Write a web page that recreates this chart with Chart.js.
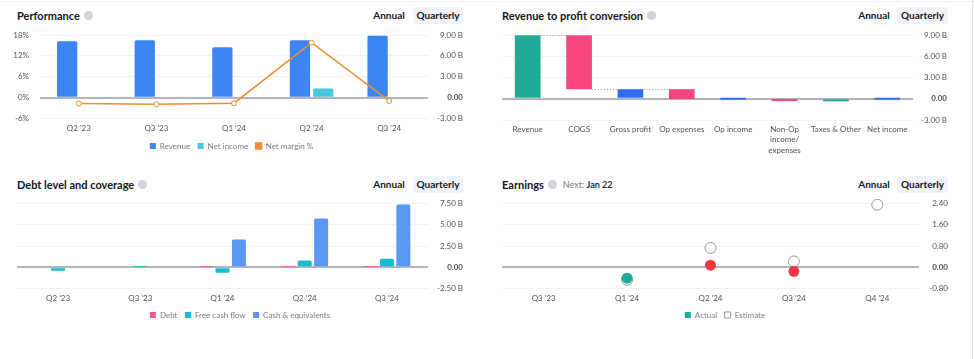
<!DOCTYPE html>
<html>
<head>
<meta charset="utf-8">
<script src="https://cdn.jsdelivr.net/npm/chart.js@4.4.1/dist/chart.umd.min.js"></script>
<style>
  body { margin: 0; background: #fff; width: 975px; height: 359px; overflow: hidden; position: relative; font-family: Lato, sans-serif; color: #131722; }
  .box { position: absolute; }
  .head { position: absolute; display: flex; align-items: center; height: 16px; white-space: nowrap; }
  .title { font-size: 11px; font-weight: 700; }
  .help { width: 9px; height: 9px; border-radius: 50%; background: #d1d4dc; margin-left: 4px; }
  .next { font-size: 9px; color: #787b86; margin-left: 6px; }
  .next b { color: #2a2e39; font-weight: 700; }
  .btn { position: absolute; font-size: 10px; font-weight: 700; line-height: 17px; white-space: nowrap; text-align: center; }
  .btn.on { background: #f0f3fa; border-radius: 4px; }
  .topline { position: absolute; left: 0; top: 1px; width: 975px; height: 1px; background: #eef0f3; }
  .sideline { position: absolute; left: 972px; top: 0; width: 1px; height: 359px; background: #e6e8ec; }
</style>
</head>
<body>
<div class="topline"></div>
<div class="sideline"></div>

<div class="head" style="left:17px;top:7px"><span class="title">Performance</span><span class="help"></span></div>
<div class="btn" style="left:372px;top:7px;width:34px">Annual</div>
<div class="btn on" style="left:413px;top:7px;width:50px">Quarterly</div>

<div class="head" style="left:502px;top:7px"><span class="title">Revenue to profit conversion</span><span class="help"></span></div>
<div class="btn" style="left:857px;top:7px;width:34px">Annual</div>
<div class="btn on" style="left:897px;top:7px;width:51px">Quarterly</div>

<div class="head" style="left:17px;top:176px"><span class="title">Debt level and coverage</span><span class="help"></span></div>
<div class="btn" style="left:372px;top:176px;width:34px">Annual</div>
<div class="btn on" style="left:413px;top:176px;width:50px">Quarterly</div>

<div class="head" style="left:502px;top:176px"><span class="title">Earnings</span><span class="help"></span><span class="next">Next: <b>Jan 22</b></span></div>
<div class="btn" style="left:857px;top:176px;width:34px">Annual</div>
<div class="btn on" style="left:897px;top:176px;width:51px">Quarterly</div>

<canvas id="perf" class="box" width="480" height="135" style="left:0;top:25px"></canvas>
<canvas id="conv" class="box" width="495" height="135" style="left:480px;top:25px"></canvas>
<canvas id="debt" class="box" width="480" height="140" style="left:0;top:190px"></canvas>
<canvas id="eps" class="box" width="495" height="140" style="left:480px;top:190px"></canvas>

<script>
// Performance
const perfQuarters = ["Q2 '23", "Q3 '23", "Q1 '24", "Q2 '24", "Q3 '24"];
const perfRevenue = [8.1, 8.25, 7.25, 8.25, 8.9];
const perfNetIncome = [-0.14, -0.16, -0.12, 1.32, -0.085];
const perfNetMargin = [-1.7, -1.9, -1.6, 15.8, -0.95];

// Revenue to profit conversion (total = bar from zero, step = change from previous level)
const convLabels = ["Revenue", "COGS", "Gross profit", "Op expenses", "Op income", ["Non-Op", "income/", "expenses"], "Taxes & Other", "Net income"];
const convKinds = ["total", "step", "total", "step", "total", "step", "step", "total"];
const convValues = [8.95, -7.6, 1.35, -1.4, -0.05, -0.05, 0.015, -0.085];
const convColors = ["#22ab94", "#f7457d", "#2e6ff2", "#f7457d", "#2e6ff2", "#f7457d", "#22ab94", "#2e6ff2"];

// Debt level and coverage
const debtQuarters = ["Q2 '23", "Q3 '23", "Q1 '24", "Q2 '24", "Q3 '24"];
const debtDebt = [null, null, 0.05, 0.05, 0.05];
const debtFreeCash = [-0.4, 0.04, -0.64, 0.8, 1.0];
const debtCash = [null, null, 3.29, 5.76, 7.4];

// Earnings
const epsQuarters = ["Q3 '23", "Q1 '24", "Q2 '24", "Q3 '24", "Q4 '24"];
const epsActual = [null, -0.41, 0.08, -0.15, null];
const epsEstimate = [null, -0.47, 0.73, 0.22, 2.36];

const FONT = "Lato";
const tickColor = "#50535e";
const tickFont = (c) => ({ family: FONT, size: 8, weight: c.tick && c.tick.value === 0 ? "bold" : "normal" });
const gridLines = {
  drawTicks: false,
  color: (c) => (c.tick && c.tick.value === 0 ? "#b2b5be" : "#f0f3fa"),
  lineWidth: (c) => (c.tick && c.tick.value === 0 ? 2 : 1),
};
const billions = (v) => (v === 0 ? "0.00" : v.toFixed(2) + " B");
const xAxis = (height, lineHeight, padding) => ({
  grid: { display: false, drawTicks: false },
  border: { display: false },
  ticks: { color: tickColor, font: { family: FONT, size: 8, lineHeight: lineHeight }, padding: padding, maxRotation: 0, autoSkip: false },
  afterFit: (s) => { s.height = height; },
});
// fixed width, no extra room above/below for the tick labels
const fitY = (width) => (s) => { s.width = width; s.paddingTop = 0; s.paddingBottom = 0; };
const legendOpts = {
  position: "bottom",
  labels: {
    boxWidth: 6, boxHeight: 6, padding: 7.5, color: "#787b86",
    font: { family: FONT, size: 8 },
    sort: (a, b) => a.datasetIndex - b.datasetIndex,
  },
};

Chart.defaults.animation = false;
Chart.defaults.responsive = false;
Chart.defaults.plugins.tooltip.enabled = false;

new Chart(document.getElementById("perf"), {
  data: {
    labels: perfQuarters,
    datasets: [
      { type: "bar", label: "Revenue", data: perfRevenue, backgroundColor: "#3d85f5", yAxisID: "yB", order: 2,
        borderRadius: 1.5, categoryPercentage: 0.6, barPercentage: 0.87 },
      { type: "bar", label: "Net income", data: perfNetIncome, backgroundColor: "#45c9dd", yAxisID: "yB", order: 2,
        borderRadius: 1.5, categoryPercentage: 0.6, barPercentage: 0.87, minBarLength: 1 },
      { type: "line", label: "Net margin %", data: perfNetMargin, yAxisID: "yPct", order: 1,
        borderColor: "#f08c2e", backgroundColor: "#f08c2e", borderWidth: 1.5,
        pointRadius: 2.5, pointBackgroundColor: "#fff", pointBorderColor: "#f08c2e", pointBorderWidth: 1 },
    ],
  },
  options: {
    layout: { padding: { top: 10, right: 17, bottom: 0 } },
    plugins: { legend: legendOpts },
    scales: {
      x: xAxis(16, 1.1, 6),
      yPct: {
        position: "left", min: -6, max: 18,
        ticks: { stepSize: 6, color: tickColor, font: { family: FONT, size: 8 }, padding: 11, callback: (v) => v + "%" },
        grid: { display: false, drawTicks: false }, border: { display: false },
        afterFit: fitY(40),
      },
      yB: {
        position: "right", min: -3, max: 9,
        ticks: { stepSize: 3, color: tickColor, font: tickFont, padding: 4, crossAlign: "far", callback: billions },
        grid: gridLines, border: { display: false },
        afterFit: fitY(35),
      },
    },
  },
});

// running levels for the waterfall
const convRanges = [];
const convLevels = [];
let level = 0;
convValues.forEach((v, i) => {
  if (convKinds[i] === "total") {
    convRanges.push([0, v]);
    level = v;
  } else {
    convRanges.push([level, level + v]);
    level = level + v;
  }
  convLevels.push(level);
});

const connectors = {
  id: "connectors",
  afterDatasetsDraw(chart) {
    const bars = chart.getDatasetMeta(0).data;
    const y = chart.scales.y;
    const ctx = chart.ctx;
    ctx.save();
    ctx.strokeStyle = "#9598a1";
    ctx.lineWidth = 1;
    ctx.setLineDash([1, 2]);
    for (let i = 0; i < bars.length - 1; i++) {
      const yy = Math.round(y.getPixelForValue(convLevels[i])) + 0.5;
      ctx.beginPath();
      ctx.moveTo(bars[i].x + bars[i].width / 2, yy);
      ctx.lineTo(bars[i + 1].x - bars[i + 1].width / 2, yy);
      ctx.stroke();
    }
    ctx.restore();
  },
};

new Chart(document.getElementById("conv"), {
  type: "bar",
  data: {
    labels: convLabels,
    datasets: [{ data: convRanges, backgroundColor: convColors, categoryPercentage: 1, barPercentage: 0.5, minBarLength: 2 }],
  },
  plugins: [connectors],
  options: {
    layout: { padding: { top: 10, left: 22, right: 28, bottom: 0 } },
    plugins: { legend: { display: false } },
    scales: {
      x: xAxis(40, 1.3, 4),
      y: {
        position: "right", min: -3, max: 9,
        ticks: { stepSize: 3, color: tickColor, font: tickFont, padding: 4, crossAlign: "far", callback: billions },
        grid: gridLines, border: { display: false },
        afterFit: fitY(34),
      },
    },
  },
});

new Chart(document.getElementById("debt"), {
  type: "bar",
  data: {
    labels: debtQuarters,
    datasets: [
      { label: "Debt", data: debtDebt, backgroundColor: "#ef5a8b", borderRadius: 1.5, categoryPercentage: 0.6, barPercentage: 0.85 },
      { label: "Free cash flow", data: debtFreeCash, backgroundColor: "#16bccf", borderRadius: 1.5, categoryPercentage: 0.6, barPercentage: 0.85 },
      { label: "Cash & equivalents", data: debtCash, backgroundColor: "#5a97f2", borderRadius: 1.5, categoryPercentage: 0.6, barPercentage: 0.85 },
    ],
  },
  options: {
    layout: { padding: { top: 13.7, left: 17, right: 17, bottom: 1 } },
    plugins: { legend: legendOpts },
    scales: {
      x: xAxis(15, 1.1, 6),
      y: {
        position: "right", min: -2.5, max: 7.5,
        ticks: { stepSize: 2.5, color: tickColor, font: tickFont, padding: 4, crossAlign: "far", callback: billions },
        grid: gridLines, border: { display: false },
        afterFit: fitY(35),
      },
    },
  },
});

const epsColors = epsActual.map((a, i) => (a === null ? "#22ab94" : a >= epsEstimate[i] ? "#22ab94" : "#f23645"));

new Chart(document.getElementById("eps"), {
  type: "line",
  data: {
    labels: epsQuarters,
    datasets: [
      { label: "Actual", data: epsActual, showLine: false, clip: false,
        backgroundColor: "#22ab94", borderColor: "#22ab94", borderWidth: 0,
        pointRadius: 5.5, pointBackgroundColor: epsColors, pointBorderColor: epsColors, pointBorderWidth: 0 },
      { label: "Estimate", data: epsEstimate, showLine: false, clip: false,
        backgroundColor: "#fff", borderColor: "#9598a1", borderWidth: 1,
        pointRadius: 5.5, pointBackgroundColor: "#fff", pointBorderColor: "#9598a1", pointBorderWidth: 1 },
    ],
  },
  options: {
    layout: { padding: { top: 13.7, left: 22, right: 27, bottom: 1 } },
    plugins: { legend: legendOpts },
    scales: {
      x: Object.assign(xAxis(15, 1.1, 6), { offset: true }),
      y: {
        position: "right", min: -0.8, max: 2.4,
        ticks: { stepSize: 0.8, color: tickColor, font: tickFont, padding: 4, crossAlign: "far", callback: (v) => v.toFixed(2) },
        grid: gridLines, border: { display: false },
        afterFit: fitY(29),
      },
    },
  },
});
</script>
</body>
</html>
